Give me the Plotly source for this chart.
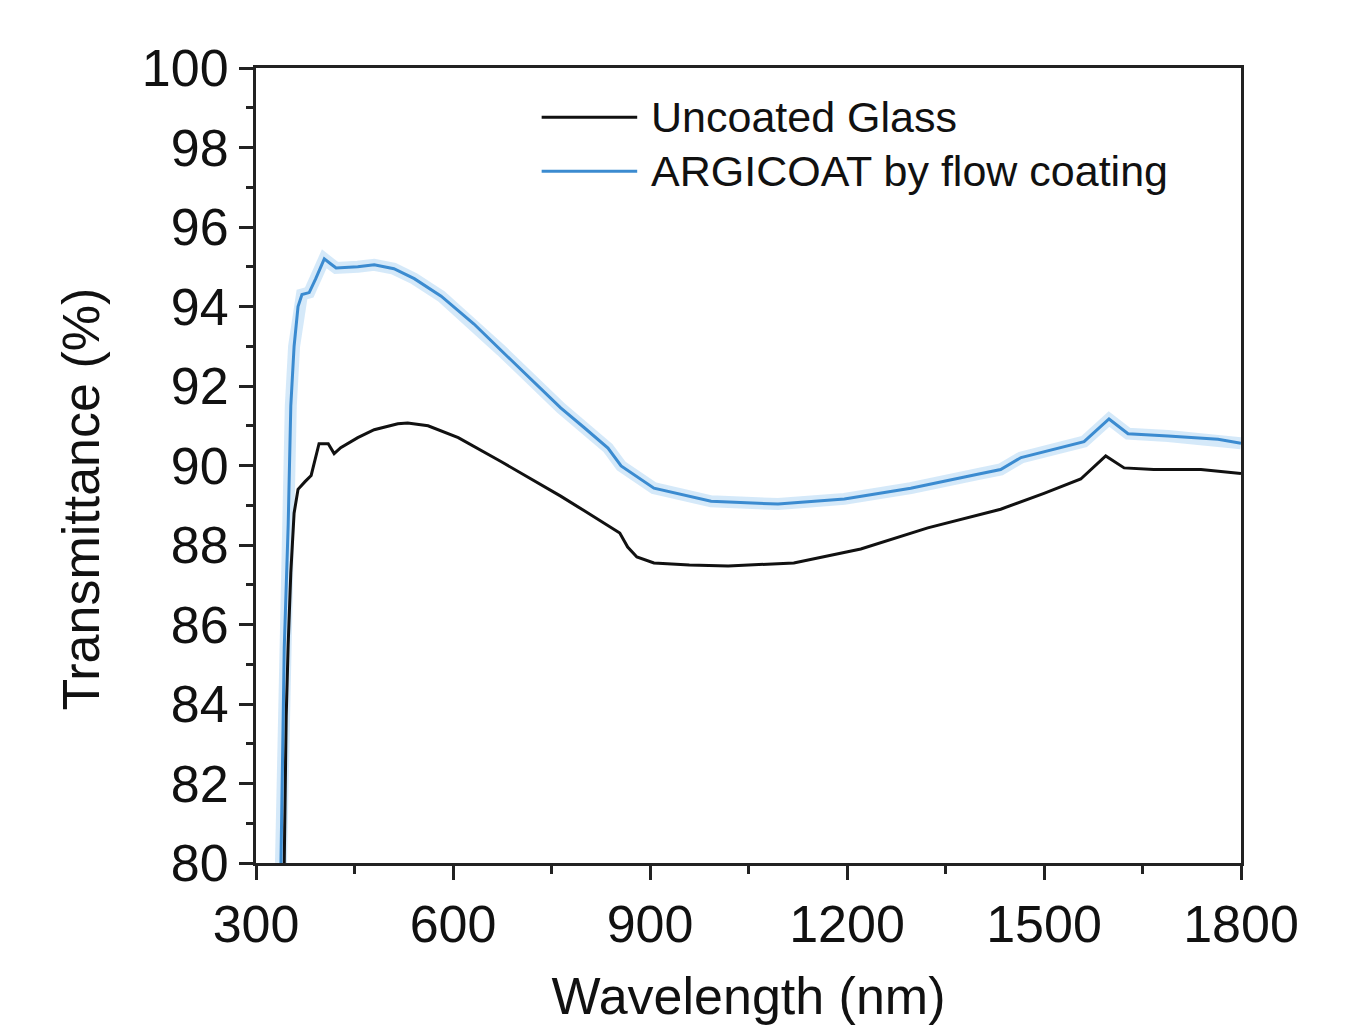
import plotly.graph_objects as go

# Uncoated glass
wl_uncoated = [343, 346, 349, 353, 358, 364, 375, 384, 396, 410, 419, 429, 455, 480, 516, 531, 562,
               608, 673, 764, 800, 854, 866, 880, 906, 960, 1019, 1119, 1221, 1323, 1434, 1500,
               1556, 1594, 1622, 1667, 1739, 1800]
t_uncoated = [80.0, 83.7, 85.5, 87.3, 88.8, 89.4, 89.6, 89.75, 90.55, 90.55, 90.3, 90.45, 90.7, 90.9,
              91.05, 91.07, 91.0, 90.7, 90.1, 89.23, 88.86, 88.3, 87.95, 87.7, 87.55, 87.5, 87.47,
              87.55, 87.9, 88.43, 88.9, 89.3, 89.66, 90.24, 89.94, 89.9, 89.9, 89.8]

# ARGICOAT by flow coating
wl_coated = [338, 343, 349, 353, 358, 364, 370, 381, 391, 404, 414, 422, 455, 480, 510, 541, 582,
             632, 673, 764, 800, 836, 856, 906, 993, 1095, 1196, 1297, 1399, 1434, 1465, 1561,
             1599, 1628, 1689, 1765, 1800]
t_coated = [80.0, 85.4, 88.5, 91.5, 93.0, 94.0, 94.3, 94.35, 94.7, 95.2, 95.07, 94.97, 95.0, 95.05,
            94.95, 94.7, 94.26, 93.56, 92.9, 91.45, 90.95, 90.44, 89.99, 89.43, 89.1, 89.03, 89.16,
            89.43, 89.78, 89.9, 90.2, 90.6, 91.17, 90.8, 90.74, 90.66, 90.56]

series_names = ["Uncoated Glass", "ARGICOAT by flow coating"]
x_ticks = [300, 600, 900, 1200, 1500, 1800]
y_ticks = [80, 82, 84, 86, 88, 90, 92, 94, 96, 98, 100]

FONT = "Liberation Sans, Arial, sans-serif"
BLUE = "#3b8bd0"

fig = go.Figure()
# soft halo around the blue curve
fig.add_trace(go.Scatter(x=wl_coated, y=t_coated, mode="lines", showlegend=False, hoverinfo="skip",
                         line=dict(color="rgba(150,200,240,0.4)", width=12)))
fig.add_trace(go.Scatter(x=wl_uncoated, y=t_uncoated, mode="lines", name=series_names[0],
                         showlegend=False, line=dict(color="#111111", width=3)))
fig.add_trace(go.Scatter(x=wl_coated, y=t_coated, mode="lines", name=series_names[1],
                         showlegend=False, line=dict(color=BLUE, width=3)))

# custom legend (long sample lines as in the reference)
legend_rows = [(series_names[0], "#111111", 0.9380), (series_names[1], BLUE, 0.8701)]
for name, color, yp in legend_rows:
    fig.add_shape(type="line", xref="paper", yref="paper", x0=0.290, x1=0.387, y0=yp, y1=yp,
                  line=dict(color=color, width=3))
    fig.add_annotation(xref="paper", yref="paper", x=0.399, y=yp, text=name, showarrow=False,
                       xanchor="left", yanchor="middle", font=dict(family=FONT, size=43, color="#111"))

# y-axis title placed like the reference (slightly below centre)
fig.add_annotation(xref="paper", yref="paper", x=-0.178, y=0.458, text="Transmittance (%)",
                   textangle=-90, showarrow=False, xanchor="center", yanchor="middle",
                   font=dict(family=FONT, size=52, color="#111"))

axis_common = dict(showline=True, linecolor="#222", linewidth=3, mirror=True, showgrid=False,
                   zeroline=False, ticks="outside", tickcolor="#222", tickwidth=3,
                   tickfont=dict(family=FONT, size=52, color="#111"))

fig.update_xaxes(range=[300, 1800], tickvals=x_ticks, ticklen=14,
                 minor=dict(ticks="outside", ticklen=8, tickwidth=3, tickcolor="#222", dtick=150),
                 title=dict(text="Wavelength (nm)", font=dict(family=FONT, size=52, color="#111"),
                            standoff=26),
                 **axis_common)
fig.update_yaxes(range=[80, 100], tickvals=y_ticks, ticklen=14,
                 minor=dict(ticks="outside", ticklen=7, tickwidth=3, tickcolor="#222", dtick=1),
                 **axis_common)

fig.update_layout(width=1361, height=1031, paper_bgcolor="white", plot_bgcolor="white",
                  margin=dict(l=248, r=128, t=60, b=176), showlegend=False)

fig.write_html("out.html")
